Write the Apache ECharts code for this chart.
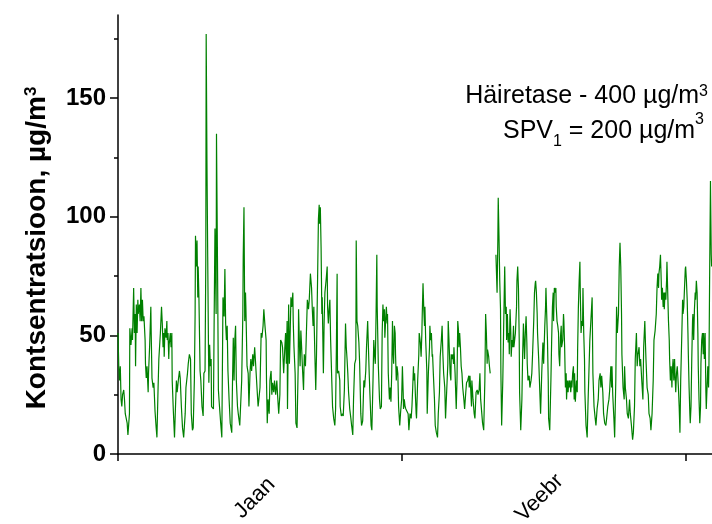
<!DOCTYPE html>
<html>
<head>
<meta charset="utf-8">
<script src="https://cdn.jsdelivr.net/npm/echarts@6/dist/echarts.min.js"></script>
<style>html,body{margin:0;padding:0;background:#fff}#c{width:712px;height:524px}</style>
</head>
<body>
<div id="c"></div>
<script>
// time in hours from the start of January, concentration in µg/m3
const hours = [0,2,4,6,8,10,12,15,17,19,24,26,30,31,34,37,38,41,43,45,46,48,50,52,53,56,58,60,62,64,66,68,71,72,74,76,79,80,83,86,87,89,92,94,97,100,102,105,107,111,114,116,118,120,121,123,126,128,129,131,133,134,137,139,141,142,145,148,150,153,155,158,161,163,166,169,172,176,178,182,184,187,190,192,195,197,200,202,203,205,207,209,210,212,215,217,220,223,225,228,230,231,233,235,237,238,240,242,244,
245,250,252,254,257,258,261,263,265,269,272,275,278,280,282,284,286,288,291,294,298,300,302,304,306,308,310,313,315,319,321,324,327,328,330,332,334,335,338,341,343,346,348,350,353,355,358,361,363,367,369,372,375,377,380,382,385,388,389,391,393,396,398,401,403,405,408,410,413,416,418,421,424,426,429,431,434,437,439,441,443,444,447,449,451,453,455,458,459,461,464,466,469,472,473,475,477,479,481,483,486,488,491,493,496,499,501,504,507,509,511,513,514,516,
518,520,523,525,527,528,530,532,534,535,538,540,542,545,548,549,551,553,555,557,560,562,565,568,570,572,574,575,578,581,582,585,588,590,593,596,598,600,602,604,607,610,612,615,617,620,623,624,626,628,631,633,636,638,641,644,646,649,651,654,656,658,660,663,665,668,670,672,674,676,678,679,682,685,687,690,692,694,696,698,699,701,703,705,706,708,711,713,715,717,719,720,722,724,726,727,729,731,733,735,738,740,743,745,747,748,750,752,754,757,760,762,765,
768,770,772,774,775,777,779,781,782,785,788,789,792,794,796,797,799,801,803,804,806,809,810,813,816,817,819,821,823,824,826,829,831,834,837,839,842,844,847,849,851,853,856,858,861,864,865,867,870,872,873,875,877,879,880,883,886,888,890,892,893,895,897,899,901,903,906,908,911,913,916,919,920,922,924,926,927,930,933,935,938,941,943,946,948,950,953,955,958,961,963,965,967,968,971,973,975,980,
990,993,995,996,998,1000,1002,1003,1005,1008,1010,1013,1015,1017,1018,1020,1022,1024,1025,1027,1029,1030,1032,1034,1036,1037,1039,1041,1044,1045,1047,1049,1051,1052,1055,1058,1060,1062,1064,1065,1067,1069,1071,1072,1074,1077,1079,1082,1084,1086,1089,1091,1093,1094,1096,1098,1099,1102,1105,1107,1110,1113,1115,1118,1120,1121,1123,1125,1127,1128,1131,1134,1136,1138,1140,1141,1143,1145,1147,1148,1150,1152,1154,1155,1157,1159,1161,1162,1165,1167,1168,1170,1172,1174,1175,1177,1179,1181,1182,1184,1186,1188,1189,1191,1193,1195,1196,1198,1201,1203,1204,1206,1208,1210,1211,1213,1215,1217,1218,1220,1222,1223,1226,1229,1231,1234,1236,
1239,1242,1244,1247,1250,1252,1255,1258,1260,1263,1265,1267,1270,1272,1275,1278,1280,1283,1286,1288,1291,1293,1294,1296,1299,1301,1304,1306,1308,1311,1313,1315,1317,1319,1320,1323,1326,1327,1329,1332,1334,1337,1340,1342,1345,1348,1350,1353,1355,1358,1360,1362,1365,1367,1369,1372,1375,1377,1380,1382,1383,1386,1389,1391,1394,1396,1399,1402,1404,1407,1410,1412,1414,1416,1417,1419,1421,1423,1424,1426,1428,1430,1431,1433,1435,1437,1438,1440,1442,1444,1445,1447,1449,1451,1452,1454,1456,1458,1459,1461,1463,1465,1466,1468,1470,1472,1474,1477,1479,1480,1482,1484,1486,1487,1489,1491,1493,1494,1496,1498,1499,1501,1503,1505,1506,1508,1510,1512,1513,1515,1517,1519,1520,1522,1524,1526,1527,1529,1531,1533,1534,1536,1538,1540,1541,1543,1545,1547,1548,1550,1552,1554,1555];
const conc = [51,37,31,37,23,20,25,27,23,17,13,8,17,53,46,53,48,70,51,59,37,63,51,65,59,63,56,70,56,65,56,58,48,38,32,37,26,34,46,62,51,32,28,30,18,11,7,28,40,51,62,55,45,51,41,53,49,56,48,51,40,46,51,45,51,31,18,7,17,31,26,31,35,32,20,11,7,17,28,34,38,42,40,17,10,11,31,59,92,79,90,66,79,66,35,31,20,16,34,35,82,177,123,83,45,30,46,37,40,
20,19,59,95,59,135,73,27,22,13,7,66,58,78,55,48,54,35,23,13,9,31,49,31,48,54,31,20,17,12,12,31,59,83,104,56,68,62,37,34,20,35,40,35,42,37,45,45,31,20,23,28,51,49,54,61,54,48,31,13,23,17,31,35,25,30,26,31,25,31,25,17,25,48,47,45,34,45,51,38,56,19,63,38,51,66,62,68,56,45,34,13,11,37,61,48,37,52,45,37,27,42,37,48,65,61,65,76,70,61,54,62,54,40,
27,42,76,99,105,97,104,87,59,66,34,56,68,73,79,62,55,61,65,48,31,20,15,12,19,44,76,34,35,31,20,16,17,16,27,55,45,40,34,26,19,15,12,8,23,38,40,90,56,54,47,38,17,12,14,31,28,35,45,56,45,34,25,12,10,31,48,42,38,59,84,62,37,23,19,20,51,63,56,61,49,56,62,55,59,34,23,28,22,34,56,45,38,54,51,42,31,37,34,20,12,17,23,37,26,19,23,20,19,19,17,10,17,
15,20,28,37,31,34,25,17,15,31,42,51,47,41,51,59,72,61,54,62,48,35,17,34,45,54,48,51,41,42,34,23,12,9,7,17,26,41,48,54,42,34,28,15,15,38,56,48,34,31,42,40,42,38,45,34,19,31,56,52,45,51,45,37,34,28,23,19,26,30,31,33,28,33,27,20,31,23,17,15,26,27,25,27,34,23,17,13,10,31,59,51,38,44,41,37,34,null,
84,68,90,108,92,73,61,34,12,31,51,79,59,62,48,59,47,51,42,61,51,41,48,45,54,45,48,51,62,73,79,70,48,26,10,23,42,55,45,40,51,58,47,38,31,33,28,31,34,42,56,68,72,73,68,59,51,40,26,17,34,47,38,54,62,70,59,48,31,15,10,31,48,62,68,56,70,68,70,62,56,54,51,42,37,49,54,45,48,59,56,45,28,34,23,31,26,31,28,31,26,31,28,34,37,23,34,22,31,26,44,62,73,81,68,51,56,54,70,51,40,26,12,7,20,37,48,
48,66,34,20,15,12,19,23,31,34,28,33,26,17,13,12,15,20,23,27,37,28,37,25,15,7,31,62,51,59,79,89,79,59,42,28,23,37,28,23,17,15,23,17,12,6,9,20,40,51,37,42,45,37,40,31,23,45,56,45,40,28,25,17,15,10,17,31,48,52,59,70,76,70,76,79,84,73,65,70,62,68,61,68,65,73,81,68,56,48,40,31,37,28,34,40,31,40,34,26,34,37,34,28,20,9,31,51,65,59,62,70,78,79,73,65,51,42,28,17,13,20,40,56,59,48,61,68,65,73,68,51,37,23,13,20,38,48,51,42,51,40,51,26,19,28,37,28,37,79,115,84,79];

const yTicks = [0, 50, 100, 150];
const yMinorTicks = [25, 75, 125, 175];
const monthTicks = [0, 744, 1488];
const monthNames = ['Jaan', 'Veebr'];
const monthLabelAt = [358, 1104];

const FONT = "'Liberation Sans', Arial, sans-serif";
const data = hours.map((h, i) => [h, conc[i] === null ? '-' : conc[i]]);

const chart = echarts.init(document.getElementById('c'), null, {renderer: 'canvas'});
chart.setOption({
  animation: false,
  backgroundColor: '#fff',
  grid: {left: 118, right: 0, top: 15, bottom: 70, containLabel: false, outerBoundsMode: 'none'},
  xAxis: {
    type: 'value', min: 0, max: 1556,
    axisLine: {show: true, lineStyle: {color: '#000', width: 1.5}},
    axisTick: {show: true, customValues: monthTicks, length: 7, lineStyle: {color: '#000', width: 1.5}},
    axisLabel: {
      customValues: monthLabelAt,
      formatter: v => monthNames[monthLabelAt.indexOf(v)] || '',
      rotate: 45, margin: 44, align: 'center', verticalAlign: 'middle',
      fontSize: 22, color: '#000', fontFamily: FONT
    },
    splitLine: {show: false}
  },
  yAxis: [{
    type: 'value', min: 0, max: 185, position: 'left',
    axisLine: {show: true, lineStyle: {color: '#000', width: 1.5}},
    axisTick: {show: true, customValues: yTicks, length: 8, lineStyle: {color: '#000', width: 1.5}},
    axisLabel: {customValues: yTicks, margin: 12, fontSize: 24, fontWeight: 'bold', color: '#000', fontFamily: FONT},
    splitLine: {show: false}
  }, {
    type: 'value', min: 0, max: 185, position: 'left',
    axisLine: {show: false},
    axisTick: {show: true, customValues: yMinorTicks, length: 4, lineStyle: {color: '#000', width: 1.5}},
    axisLabel: {show: false},
    splitLine: {show: false}
  }],
  series: [{
    type: 'line', yAxisIndex: 0, data: data, symbol: 'none', showSymbol: false,
    connectNulls: false,
    lineStyle: {color: '#008000', width: 1.2}
  }],
  graphic: [{
    type: 'text', x: 37, y: 248, rotation: Math.PI / 2,
    style: {
      text: '{b|Kontsentratsioon, µg/m}{s|3}',
      align: 'center', verticalAlign: 'middle',
      rich: {
        b: {fontSize: 28, fontWeight: 'bold', fontFamily: FONT, fill: '#000'},
        s: {fontSize: 17, fontWeight: 'bold', fontFamily: FONT, fill: '#000', verticalAlign: 'top'}
      }
    }
  }, {
    type: 'text', x: 708, y: 96,
    style: {
      text: '{a|Häiretase - 400 µg/m}{s|3}',
      align: 'right', verticalAlign: 'middle',
      rich: {
        a: {fontSize: 25, fontFamily: FONT, fill: '#000'},
        s: {fontSize: 16, fontFamily: FONT, fill: '#000', verticalAlign: 'top', padding: [0, 0, 6, 0]}
      }
    }
  }, {
    type: 'text', x: 704, y: 131,
    style: {
      text: '{a|SPV}{d|1}{a| = 200 µg/m}{s|3}',
      align: 'right', verticalAlign: 'middle',
      rich: {
        a: {fontSize: 25, fontFamily: FONT, fill: '#000'},
        d: {fontSize: 16, fontFamily: FONT, fill: '#000', verticalAlign: 'bottom', padding: [22, 0, 0, 0]},
        s: {fontSize: 16, fontFamily: FONT, fill: '#000', verticalAlign: 'top', padding: [0, 0, 6, 0]}
      }
    }
  }]
});
</script>
</body>
</html>
